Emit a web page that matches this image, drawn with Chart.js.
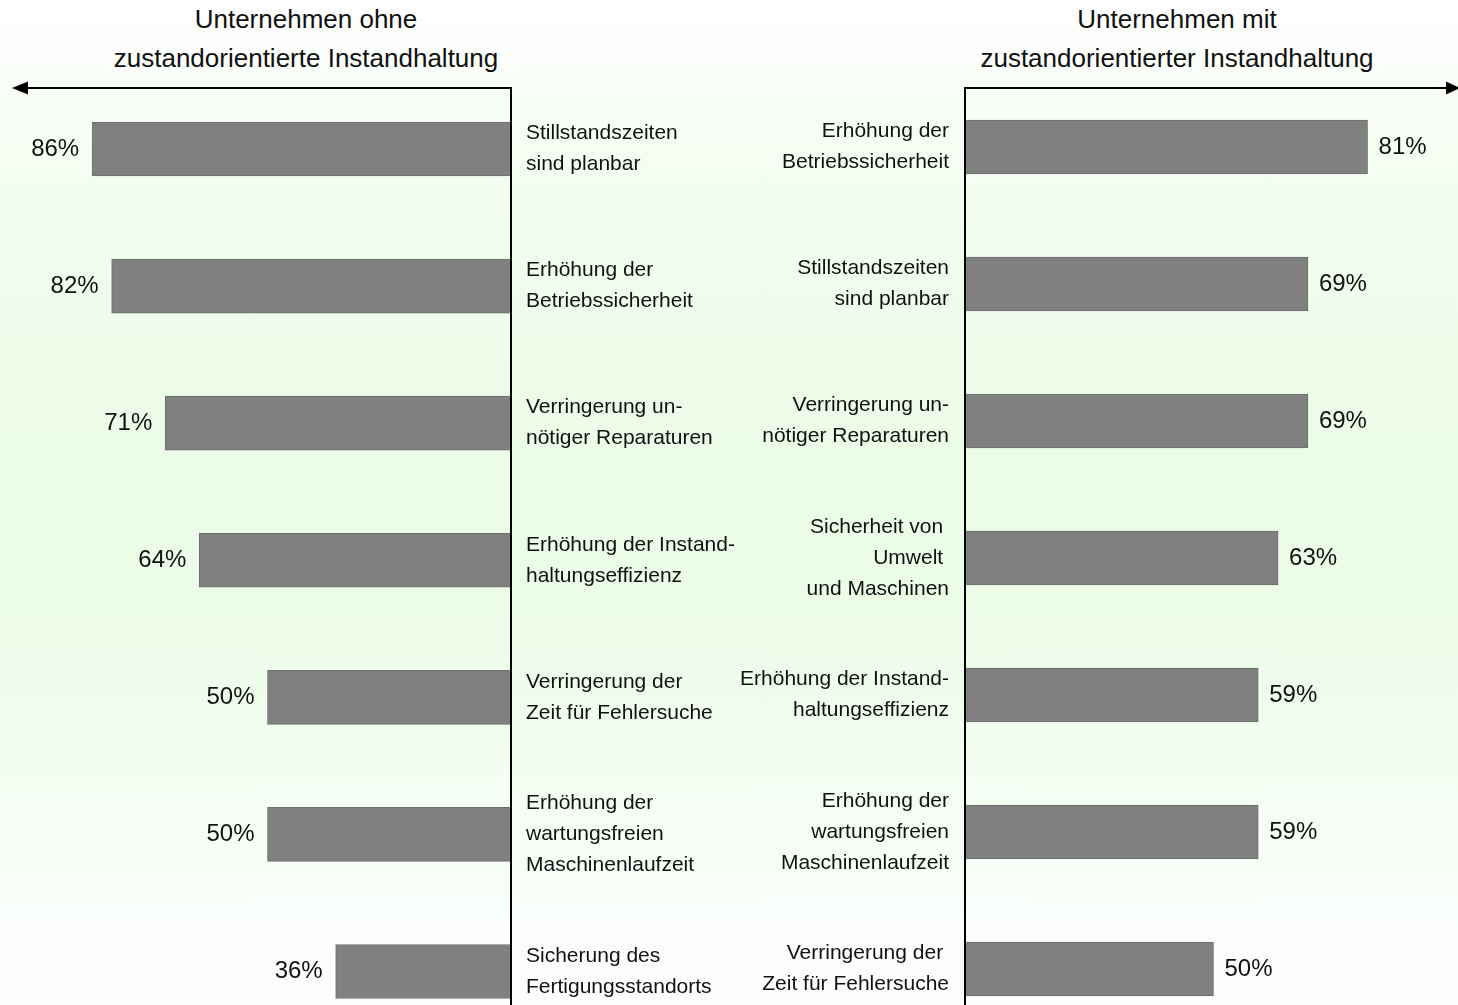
<!DOCTYPE html>
<html><head><meta charset="utf-8">
<script src="https://cdn.jsdelivr.net/npm/chart.js@4.4.1/dist/chart.umd.min.js"></script>
<style>
html,body{margin:0;padding:0;width:1458px;height:1005px;overflow:hidden;}
body{position:relative;font-family:'Liberation Sans',Arial,sans-serif;
background:linear-gradient(to bottom,#ffffff 0%,#fbfefa 6%,#f2fdef 20%,#ebfce7 45%,#ebfce7 60%,#f2fdf0 75%,#fafefa 90%,#fdfdfd 100%);}
.c{position:absolute;left:0;top:0;width:1458px;height:1005px;}
.t{position:absolute;top:0;font-size:26px;color:#111;text-align:center;line-height:39px;white-space:nowrap;transform:translateX(-50%);}
</style></head>
<body>
<div class="t" id="tl" style="left:306px"></div>
<div class="t" id="tr" style="left:1177px"></div>
<div class="c"><canvas id="l" width="1458" height="1005"></canvas></div>
<div class="c"><canvas id="r" width="1458" height="1005"></canvas></div>
<script>
const leftTitle = ['Unternehmen ohne', 'zustandorientierte Instandhaltung'];
const rightTitle = ['Unternehmen mit', 'zustandorientierter Instandhaltung'];

const leftCategories = [
  ['Stillstandszeiten', 'sind planbar'],
  ['Erhöhung der', 'Betriebssicherheit'],
  ['Verringerung un-', 'nötiger Reparaturen'],
  ['Erhöhung der Instand-', 'haltungseffizienz'],
  ['Verringerung der', 'Zeit für Fehlersuche'],
  ['Erhöhung der', 'wartungsfreien', 'Maschinenlaufzeit'],
  ['Sicherung des', 'Fertigungsstandorts']
];
const leftValues = [86, 82, 71, 64, 50, 50, 36];

const rightCategories = [
  ['Erhöhung der', 'Betriebssicherheit'],
  ['Stillstandszeiten', 'sind planbar'],
  ['Verringerung un-', 'nötiger Reparaturen'],
  ['Sicherheit von ', 'Umwelt ', 'und Maschinen'],
  ['Erhöhung der Instand-', 'haltungseffizienz'],
  ['Erhöhung der', 'wartungsfreien', 'Maschinenlaufzeit'],
  ['Verringerung der ', 'Zeit für Fehlersuche']
];
const rightValues = [81, 69, 69, 63, 59, 59, 50];

document.getElementById('tl').innerHTML = leftTitle.join('<br>');
document.getElementById('tr').innerHTML = rightTitle.join('<br>');

const FONT = "'Liberation Sans', Arial, sans-serif";

const decor = {
  id: 'decor',
  afterDatasetsDraw(chart, args, opts) {
    const ctx = chart.ctx, a = chart.chartArea;
    const meta = chart.getDatasetMeta(0);
    const vals = chart.data.datasets[0].data;
    ctx.save();
    ctx.font = '24px ' + FONT;
    ctx.fillStyle = '#111';
    ctx.textBaseline = 'middle';
    meta.data.forEach((bar, i) => {
      if (opts.side === 'left') {
        ctx.textAlign = 'right';
        ctx.fillText(vals[i] + '%', bar.x - 13, bar.y);
      } else {
        ctx.textAlign = 'left';
        ctx.fillText(vals[i] + '%', bar.x + 11, bar.y);
      }
    });
    const yTop = 88;
    ctx.strokeStyle = '#000';
    ctx.fillStyle = '#000';
    ctx.lineWidth = 2;
    ctx.beginPath();
    if (opts.side === 'left') {
      const x0 = a.right;
      ctx.moveTo(x0, chart.height);
      ctx.lineTo(x0, yTop);
      ctx.lineTo(a.left + 2, yTop);
      ctx.stroke();
      ctx.beginPath();
      ctx.moveTo(a.left - 12, yTop);
      ctx.lineTo(a.left + 4, yTop - 6.5);
      ctx.lineTo(a.left + 4, yTop + 6.5);
      ctx.closePath();
      ctx.fill();
    } else {
      const x0 = a.left;
      ctx.moveTo(x0, chart.height);
      ctx.lineTo(x0, yTop);
      ctx.lineTo(a.right - 10, yTop);
      ctx.stroke();
      ctx.beginPath();
      ctx.moveTo(a.right + 2, yTop);
      ctx.lineTo(a.right - 12, yTop - 6.5);
      ctx.lineTo(a.right - 12, yTop + 6.5);
      ctx.closePath();
      ctx.fill();
    }
    ctx.restore();
  }
};

function makeChart(id, labels, values, side) {
  const isLeft = side === 'left';
  return new Chart(document.getElementById(id), {
    type: 'bar',
    data: {
      labels: labels,
      datasets: [{
        data: values,
        backgroundColor: '#808080',
        borderColor: '#6e6e6e',
        borderWidth: 1,
        borderSkipped: false,
        barThickness: 54,
        clip: false
      }]
    },
    options: {
      indexAxis: 'y',
      responsive: false,
      animation: false,
      devicePixelRatio: 1,
      layout: {
        padding: isLeft
          ? { left: 24, right: 1458 - 740, top: 149, bottom: 1005 - 971.5 }
          : { left: 740, right: 0, top: 147, bottom: 1005 - 969 }
      },
      scales: {
        x: { display: false, reverse: isLeft, min: 0, max: isLeft ? 100 : 99.2 },
        y: {
          position: isLeft ? 'right' : 'left',
          offset: false,
          grid: { display: false, drawTicks: false },
          border: { display: false },
          ticks: {
            autoSkip: false,
            padding: isLeft ? 15 : 16,
            color: '#111',
            font: { family: FONT, size: 21, lineHeight: '31px' }
          },
          afterFit(s) {
            s.width = isLeft ? 229 : 225;
            s.paddingTop = 0;
            s.paddingBottom = 0;
          }
        }
      },
      plugins: {
        legend: { display: false },
        tooltip: { enabled: false },
        decor: { side: side }
      }
    },
    plugins: [decor]
  });
}

makeChart('l', leftCategories, leftValues, 'left');
makeChart('r', rightCategories, rightValues, 'right');
</script>
</body></html>
